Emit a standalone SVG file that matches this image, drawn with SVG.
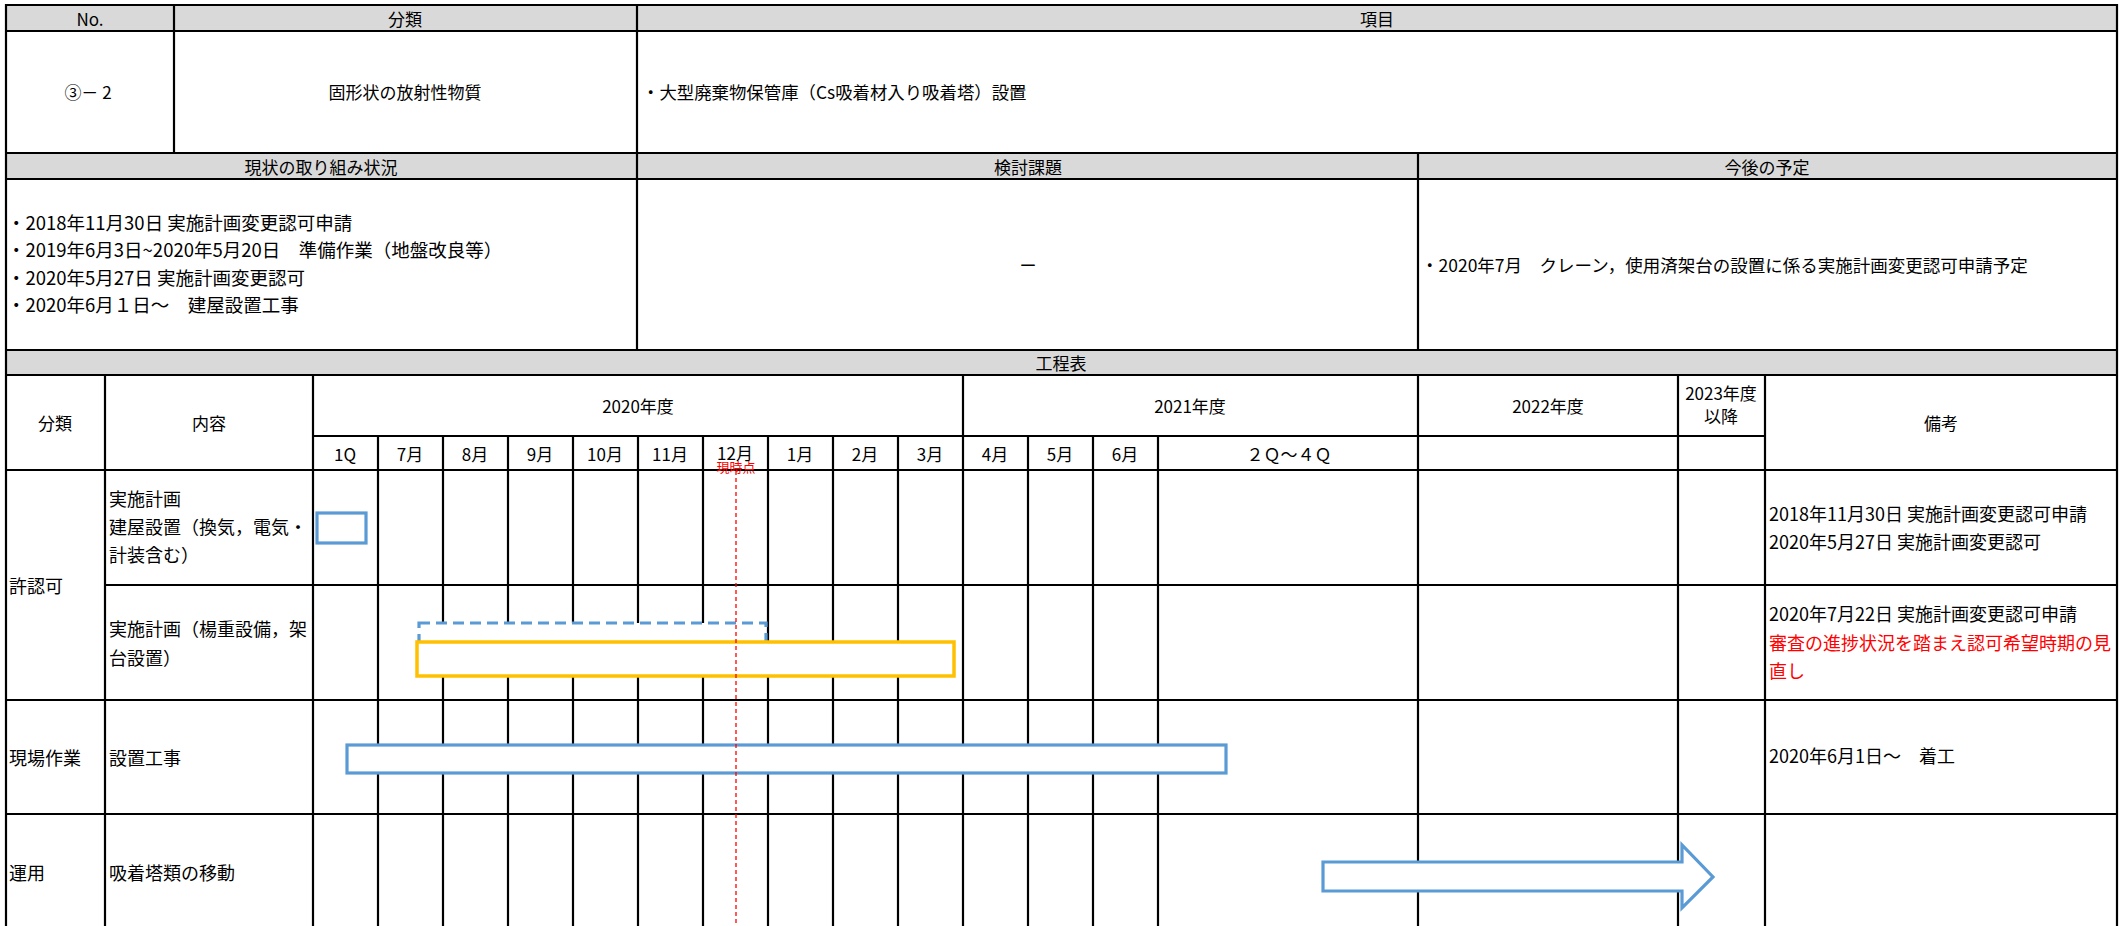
<svg xmlns="http://www.w3.org/2000/svg" width="2125" height="926" viewBox="0 0 2125 926">
<style>
text{font-family:"Noto Sans CJK JP","Noto Sans",sans-serif;fill:#000;dominant-baseline:central}
.h{font-size:17px;text-anchor:middle}
.c{font-size:18px}
.t{font-size:18.5px}
.m{font-size:17px;text-anchor:middle}
.r{fill:#FF0000}
.gray{fill:#D9D9D9}
.g line{stroke:#000;stroke-width:2.2}
.blue{fill:#fff;stroke:#5B9BD5;stroke-width:3.2}
.yel{fill:#fff;stroke:#FFC000;stroke-width:3.5}
</style>
<rect width="2125" height="926" fill="#fff"/>
<g id="header-fills">
<rect class="gray" x="6" y="5" width="2111" height="26"/>
<rect class="gray" x="6" y="153" width="2111" height="26"/>
<rect class="gray" x="6" y="350" width="2111" height="25"/>
</g>
<g id="grid" class="g">
<line x1="6" y1="5" x2="2117" y2="5"/>
<line x1="6" y1="31" x2="2117" y2="31"/>
<line x1="6" y1="153" x2="2117" y2="153"/>
<line x1="6" y1="179" x2="2117" y2="179"/>
<line x1="6" y1="350" x2="2117" y2="350"/>
<line x1="6" y1="375" x2="2117" y2="375"/>
<line x1="313" y1="436" x2="1765" y2="436"/>
<line x1="6" y1="470" x2="2117" y2="470"/>
<line x1="105" y1="585" x2="2117" y2="585"/>
<line x1="6" y1="700" x2="2117" y2="700"/>
<line x1="6" y1="814" x2="2117" y2="814"/>
<line x1="6" y1="4" x2="6" y2="926"/>
<line x1="2117" y1="4" x2="2117" y2="926"/>
<line x1="174" y1="5" x2="174" y2="153"/>
<line x1="637" y1="5" x2="637" y2="350"/>
<line x1="1418" y1="153" x2="1418" y2="350"/>
<line x1="105" y1="375" x2="105" y2="926"/>
<line x1="313" y1="375" x2="313" y2="926"/>
<line x1="963" y1="375" x2="963" y2="926"/>
<line x1="1418" y1="375" x2="1418" y2="926"/>
<line x1="1678" y1="375" x2="1678" y2="926"/>
<line x1="1765" y1="375" x2="1765" y2="926"/>
<line x1="378" y1="436" x2="378" y2="926"/>
<line x1="443" y1="436" x2="443" y2="926"/>
<line x1="508" y1="436" x2="508" y2="926"/>
<line x1="573" y1="436" x2="573" y2="926"/>
<line x1="638" y1="436" x2="638" y2="926"/>
<line x1="703" y1="436" x2="703" y2="926"/>
<line x1="768" y1="436" x2="768" y2="926"/>
<line x1="833" y1="436" x2="833" y2="926"/>
<line x1="898" y1="436" x2="898" y2="926"/>
<line x1="1028" y1="436" x2="1028" y2="926"/>
<line x1="1093" y1="436" x2="1093" y2="926"/>
<line x1="1158" y1="436" x2="1158" y2="926"/>
</g>
<g id="top-table">
<text class="h" x="90" y="18">No.</text>
<text class="h" x="405" y="18">分類</text>
<text class="h" x="1377" y="18">項目</text>
<text class="h" x="88" y="91">③－ 2</text>
<text class="h" x="405" y="91">固形状の放射性物質</text>
<text class="c" x="642" y="91" style="font-size:17.4px">・大型廃棄物保管庫（Cs吸着材入り吸着塔）設置</text>
<text class="h" x="321" y="166">現状の取り組み状況</text>
<text class="h" x="1028" y="166">検討課題</text>
<text class="h" x="1767" y="166">今後の予定</text>
<text class="t" x="7" y="222">・2018年11月30日 実施計画変更認可申請</text>
<text class="t" x="7" y="249">・2019年6月3日~2020年5月20日　準備作業（地盤改良等）</text>
<text class="t" x="7" y="277">・2020年5月27日 実施計画変更認可</text>
<text class="t" x="7" y="304">・2020年6月１日～　建屋設置工事</text>
<text class="h" x="1028" y="264">ー</text>
<text class="c" x="1421" y="264" style="font-size:17.5px">・2020年7月　クレーン，使用済架台の設置に係る実施計画変更認可申請予定</text>
<text class="h" x="1061" y="362">工程表</text>
</g>
<g id="gantt-header">
<text class="m" x="55" y="422">分類</text>
<text class="m" x="209" y="422">内容</text>
<text class="m" x="638" y="405">2020年度</text>
<text class="m" x="1190" y="405">2021年度</text>
<text class="m" x="1548" y="405">2022年度</text>
<text class="m" x="1721" y="392">2023年度</text>
<text class="m" x="1721" y="415">以降</text>
<text class="m" x="1941" y="422">備考</text>
<text class="m" x="345" y="453">1Q</text>
<text class="m" x="410" y="453">7月</text>
<text class="m" x="475" y="453">8月</text>
<text class="m" x="540" y="453">9月</text>
<text class="m" x="605" y="453">10月</text>
<text class="m" x="670" y="453">11月</text>
<text class="m" x="735" y="452">12月</text>
<text class="m" x="800" y="453">1月</text>
<text class="m" x="865" y="453">2月</text>
<text class="m" x="930" y="453">3月</text>
<text class="m" x="995" y="453">4月</text>
<text class="m" x="1060" y="453">5月</text>
<text class="m" x="1125" y="453">6月</text>
<text class="m" x="1289" y="453">２Ｑ～４Ｑ</text>
</g>
<g id="row-kyoninka">
<text class="c" x="9" y="585">許認可</text>
<text class="c" x="109" y="498">実施計画</text>
<text class="c" x="109" y="526">建屋設置（換気，電気・</text>
<text class="c" x="109" y="554">計装含む）</text>
<text class="c" x="109" y="628">実施計画（楊重設備，架</text>
<text class="c" x="109" y="657">台設置）</text>
<text class="c" x="1769" y="513">2018年11月30日 実施計画変更認可申請</text>
<text class="c" x="1769" y="541">2020年5月27日 実施計画変更認可</text>
<text class="c" x="1769" y="613">2020年7月22日 実施計画変更認可申請</text>
<text class="c r" x="1769" y="642">審査の進捗状況を踏まえ認可希望時期の見</text>
<text class="c r" x="1769" y="670">直し</text>
</g>
<g id="row-genba">
<text class="c" x="9" y="757">現場作業</text>
<text class="c" x="109" y="757">設置工事</text>
<text class="c" x="1769" y="755">2020年6月1日～　着工</text>
</g>
<g id="row-unyo">
<text class="c" x="9" y="872">運用</text>
<text class="c" x="109" y="872">吸着塔類の移動</text>
</g>
<g id="bar-plan-building">
<rect class="blue" x="317" y="513" width="49" height="30"/>
</g>
<g id="bar-plan-crane">
<rect x="419" y="623" width="347" height="38" fill="#fff" stroke="#5B9BD5" stroke-width="3.2" stroke-dasharray="11 6"/>
<rect class="yel" x="417" y="642" width="537" height="34"/>
</g>
<g id="bar-construction">
<rect class="blue" x="347" y="745" width="879" height="28"/>
</g>
<g id="arrow-move">
<polygon class="blue" points="1323,862 1682,862 1682,845 1713,877 1682,908 1682,891 1323,891"/>
</g>
<g id="connectors">
<line x1="736" y1="471" x2="736" y2="926" stroke="#FF0000" stroke-width="1.3" stroke-dasharray="4 3"/>
<text x="736" y="466" style="font-size:13px;text-anchor:middle;fill:#FF0000">現時点</text>
</g>
</svg>
